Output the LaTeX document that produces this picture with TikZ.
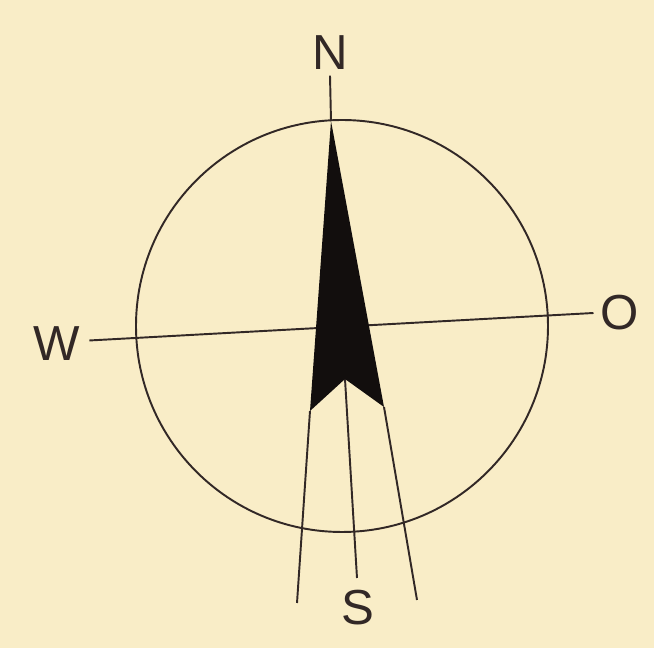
\documentclass[tikz,border=0pt]{standalone}
\usepackage{fontspec}
\setmainfont{Liberation Sans}
\usepackage{tikz}
\usetikzlibrary{positioning, calc}

\definecolor{papier}{RGB}{249,237,199}
\definecolor{tinte}{RGB}{50,40,38}

\tikzset{
  rose/.style={draw=tinte, line width=1.1pt},
  richtung/.style={text=tinte, inner sep=0pt, font=\fontsize{28}{32}\selectfont}
}

\begin{document}
\begin{tikzpicture}[x=0.02cm, y=-0.02cm]

% Hintergrund
\fill[papier] (0,0) rectangle (654,648);
\useasboundingbox (0,0) rectangle (654,648);

% Kreis
\draw[rose] (342,326) circle (206*0.02cm);

% Himmelsrichtungen
\node[richtung] (nord) at (330,53) {N};
\node[richtung] (sued) at (358,608) {S};
\node[richtung] (west) at (57,344) {W};
\node[richtung] (ost) at (620,313) {O};

\coordinate (endeL) at (297,603);
\coordinate (endeR) at (417,600);
\coordinate (endeM) at (357,578);

% Nadel
\coordinate (spitze) at (331,121);
\coordinate (links) at (310,411);
\coordinate (kerbe) at (345,379);
\coordinate (rechts) at (384,407);

\draw[rose] ($(west.east)+(5pt,2pt)$) -- ($(ost.west)+(-4pt,0)$);
\draw[rose] (nord.south) ++(0,-3pt) -- (spitze);
\draw[rose] (links) -- (endeL);
\draw[rose] (rechts) -- (endeR);
\draw[rose] (kerbe) -- (endeM);

\fill[black!65!tinte] (spitze) -- (rechts) -- (kerbe) -- (links) -- cycle;

\end{tikzpicture}
\end{document}
